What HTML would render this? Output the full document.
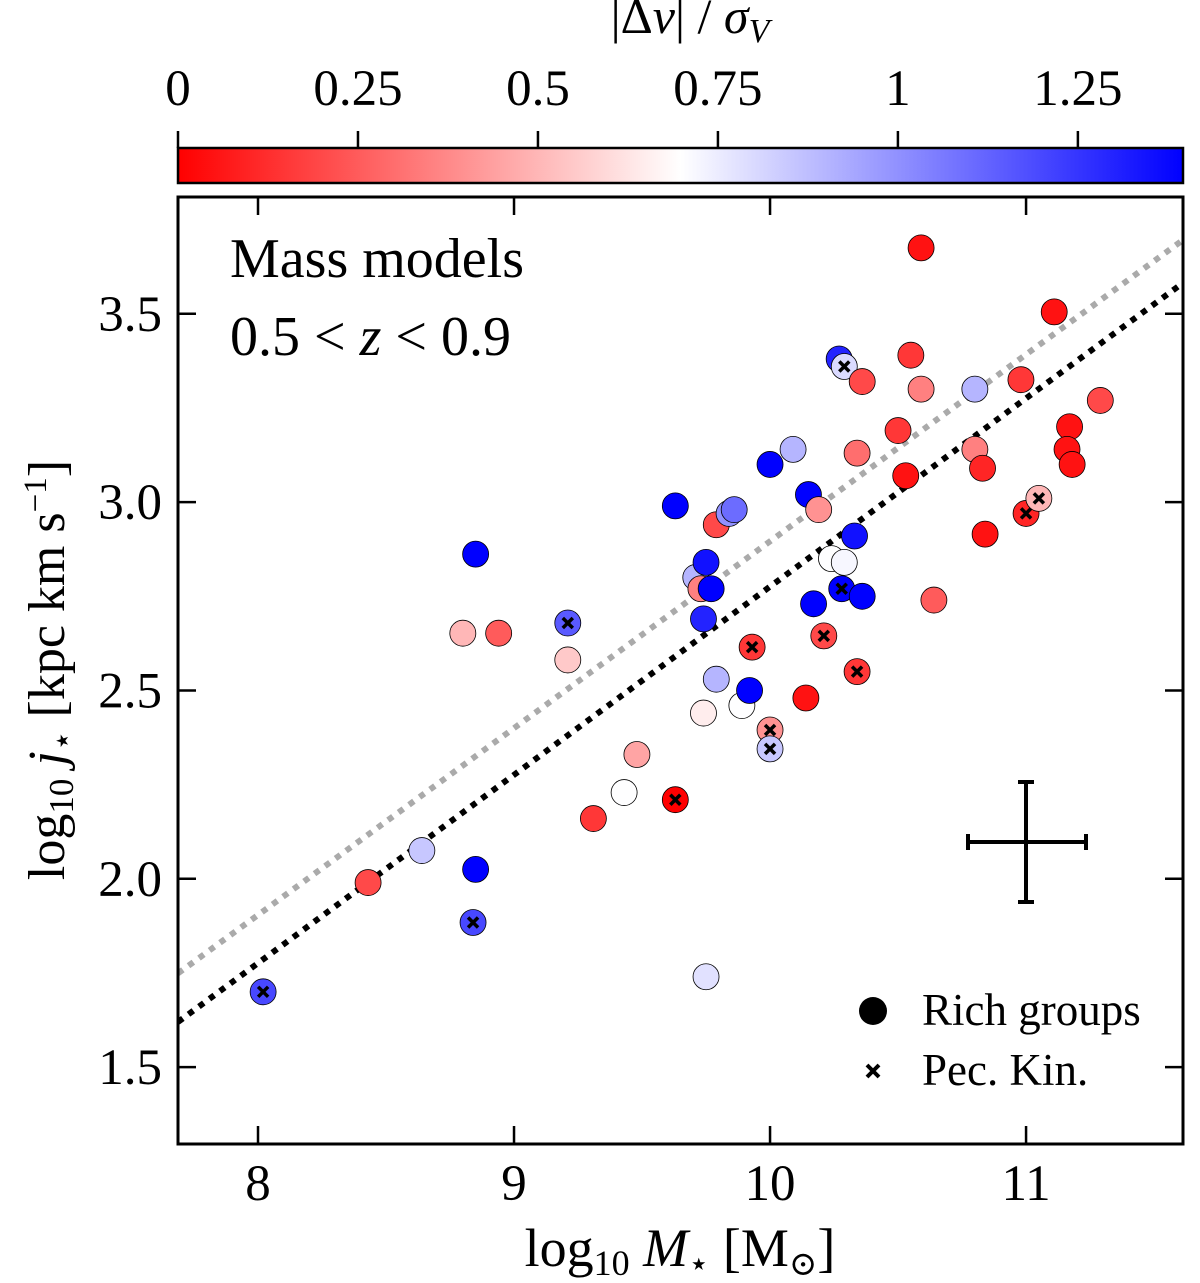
<!DOCTYPE html>
<html><head><meta charset="utf-8"><style>
body{margin:0;background:#fff;}
text,tspan{font-family:"Liberation Serif","DejaVu Serif",serif;fill:#000;}
</style></head><body>
<svg id="chart" width="1200" height="1283" viewBox="0 0 1200 1283" xmlns="http://www.w3.org/2000/svg" style="position:absolute;left:0;top:0">
<defs>
<linearGradient id="cbg" x1="0" x2="1" y1="0" y2="0">
<stop offset="0" stop-color="#ff0000"/><stop offset="0.5" stop-color="#ffffff"/><stop offset="1" stop-color="#0000ff"/>
</linearGradient>
<clipPath id="clip"><rect x="178" y="197" width="1005" height="947"/></clipPath>
</defs>
<g id="cbar"></g>
<g id="plot"></g>
</svg>
<script>
const xs = [8.02,8.43,8.64,8.85,8.84,8.85,8.80,8.94,9.21,9.21,9.31,9.43,9.48,9.63,9.63,9.71,9.73,9.75,9.77,9.74,9.79,9.84,9.86,9.75,9.74,9.79,9.89,9.92,9.93,10.0,10.0,10.0,10.09,10.15,10.17,10.14,10.19,10.21,10.24,10.29,10.28,10.27,10.29,10.33,10.36,10.34,10.36,10.34,10.50,10.53,10.55,10.59,10.59,10.64,10.80,10.80,10.83,10.84,10.98,11.0,11.05,11.11,11.17,11.16,11.18,11.29];
const ys = [1.70,1.99,2.075,2.025,1.884,2.862,2.652,2.652,2.679,2.581,2.16,2.229,2.33,2.21,2.99,2.80,2.77,2.84,2.77,2.69,2.94,2.97,2.98,1.74,2.44,2.53,2.46,2.50,2.615,2.395,2.345,3.10,3.14,3.02,2.73,2.48,2.98,2.645,2.85,2.84,2.77,3.38,3.36,2.91,2.75,3.13,3.32,2.55,3.19,3.07,3.39,3.675,3.30,2.74,3.30,3.14,3.09,2.915,3.325,2.97,3.01,3.505,3.20,3.14,3.10,3.27];
const dv = [1.2,0.2,0.85,1.4,1.2,1.4,0.5,0.25,1.15,0.55,0.15,0.7,0.45,0.0,1.4,0.9,0.35,1.35,1.4,1.3,0.2,1.0,1.1,0.78,0.65,0.9,0.7,1.4,0.15,0.4,0.85,1.4,0.9,1.4,1.4,0.05,0.4,0.2,0.7,0.72,1.4,1.3,0.8,1.35,1.4,0.3,0.2,0.15,0.15,0.05,0.15,0.05,0.35,0.25,0.9,0.35,0.1,0.05,0.15,0.1,0.5,0.05,0.05,0.05,0.05,0.2];
const pec = [1,0,0,0,1,0,0,0,1,0,0,0,0,1,0,0,0,0,0,0,0,0,0,0,0,0,0,0,1,1,1,0,0,0,0,0,0,1,0,0,1,0,1,0,0,0,0,1,0,0,0,0,0,0,0,0,0,0,0,1,1,0,0,0,0,0];
const xTicks = [8,9,10,11];
const yTicks = [1.5,2.0,2.5,3.0,3.5];
const yTickLabels = ["1.5","2.0","2.5","3.0","3.5"];
const cTicks = [0,0.25,0.5,0.75,1,1.25];
const cTickLabels = ["0","0.25","0.5","0.75","1","1.25"];
const fitBlack = [1.62,3.582];
const fitGray = [1.749,3.696];
const xDomain = [7.6875,11.613];
const yDomain = [1.296,3.81];
const cMax = 1.396;

const L=178,R=1183,T=197,B=1144;
const sx = v => L + (v-xDomain[0])/(xDomain[1]-xDomain[0])*(R-L);
const sy = v => B - (v-yDomain[0])/(yDomain[1]-yDomain[0])*(B-T);
const sc = v => 178 + v/cMax*(1183-178);
function cmap(v){let t=Math.max(0,Math.min(1,v/cMax));let r,g,b;
 if(t<0.5){r=255;g=b=Math.round(510*t);}else{r=g=Math.round(255*(2-2*t));b=255;}
 return `rgb(${r},${g},${b})`;}
const NS="http://www.w3.org/2000/svg";
function mk(tag,attrs,parent,txt){const e=document.createElementNS(NS,tag);for(const k in attrs)e.setAttribute(k,attrs[k]);if(txt!==undefined)e.textContent=txt;parent.appendChild(e);return e;}
const plot=document.getElementById('plot'), cbar=document.getElementById('cbar');
const FF='Liberation Serif, DejaVu Serif, serif';

let r=mk('rect',{x:178,y:148,width:1005,height:35,fill:'url(#cbg)',stroke:'#000','stroke-width':2.5},cbar);


cTicks.forEach((v,i)=>{const x=sc(v);
 let l=mk('line',{x1:x,x2:x,y1:131,y2:148,stroke:'#000','stroke-width':2.5},cbar);
 
 
 let t=mk('text',{x:x,y:105,'font-size':51,'font-family':FF,'text-anchor':'middle'},cbar,cTickLabels[i]);
 
 
});
let ct=mk('text',{x:690,y:33,'font-size':50,'font-family':FF,'text-anchor':'middle'},cbar);
ct.innerHTML='|Δ<tspan font-style="italic">v</tspan>| / <tspan font-style="italic">σ</tspan><tspan font-style="italic" font-size="34" dy="9">V</tspan>';



const g=mk('g',{'clip-path':'url(#clip)'},plot);
[[fitGray,'#aaaaaa','gray-fit-line'],[fitBlack,'#000','black-fit-line']].forEach(([f,c,n])=>{
 let l=mk('line',{x1:sx(xDomain[0]),y1:sy(f[0]),x2:sx(xDomain[1]),y2:sy(f[1]),stroke:c,'stroke-width':6,'stroke-dasharray':'6 7'},g);
 
 
});
xs.forEach((x,i)=>{const cx=sx(x),cy=sy(ys[i]);
 let c=mk('circle',{cx:cx,cy:cy,r:13,fill:cmap(dv[i]),stroke:'#000','stroke-width':0.8},g);
 
 
 if(pec[i]){let p=mk('path',{d:`M${cx-5},${cy-5}L${cx+5},${cy+5}M${cx-5},${cy+5}L${cx+5},${cy-5}`,stroke:'#000','stroke-width':3.5},g);
  
  }
});
let fr=mk('rect',{x:L,y:T,width:R-L,height:B-T,fill:'none',stroke:'#000','stroke-width':3},plot);


xTicks.forEach(v=>{const x=sx(v);
 mk('line',{x1:x,x2:x,y1:B,y2:B-18,stroke:'#000','stroke-width':2.5},plot);
 mk('line',{x1:x,x2:x,y1:T,y2:T+18,stroke:'#000','stroke-width':2.5},plot);
 let t=mk('text',{x:x,y:1200,'font-size':51,'font-family':FF,'text-anchor':'middle'},plot,String(v));
 
 
});
yTicks.forEach((v,i)=>{const y=sy(v);
 mk('line',{x1:L,x2:L+18,y1:y,y2:y,stroke:'#000','stroke-width':2.5},plot);
 mk('line',{x1:R,x2:R-18,y1:y,y2:y,stroke:'#000','stroke-width':2.5},plot);
 let t=mk('text',{x:162,y:y+17,'font-size':51,'font-family':FF,'text-anchor':'end'},plot,yTickLabels[i]);
 
 
});
</script>
<svg style="position:absolute;left:0;top:0" width="1200" height="1283" font-family="Liberation Serif, DejaVu Serif, serif">
<text x="230" y="277" font-size="56">Mass models</text>
<text x="230" y="355" font-size="56">0.5 &lt; <tspan font-style="italic">z</tspan> &lt; 0.9</text>
<text x="680" y="1266" font-size="54" text-anchor="middle">log<tspan font-size="36" dy="9">10</tspan><tspan dy="-9" font-style="italic"> M</tspan><tspan font-size="34" dy="9">⋆</tspan><tspan dy="-9"> [M</tspan><tspan font-size="34" dy="9">⊙</tspan><tspan dy="-9">]</tspan></text>
<text transform="translate(64,670) rotate(-90)" font-size="52" text-anchor="middle">log<tspan font-size="35" dy="9">10</tspan><tspan dy="-9" font-style="italic"> j</tspan><tspan font-size="33" dy="9">⋆</tspan><tspan dy="-9"> [kpc km s</tspan><tspan font-size="33" dy="-18">−1</tspan><tspan dy="18">]</tspan></text>
<g stroke="#000" stroke-width="4">
<line x1="968" x2="1086" y1="842" y2="842"/><line x1="1026" x2="1026" y1="782" y2="902"/>
<line x1="968" x2="968" y1="834" y2="850"/><line x1="1086" x2="1086" y1="834" y2="850"/>
<line x1="1018" x2="1034" y1="782" y2="782"/><line x1="1018" x2="1034" y1="902" y2="902"/>
</g>
<g>
<circle cx="873" cy="1011" r="14" fill="#000"/>
<text x="922" y="1025" font-size="45">Rich groups</text>
<path d="M867,1065L879,1077M867,1077L879,1065" stroke="#000" stroke-width="4"/>
<text x="922" y="1085" font-size="45">Pec. Kin.</text>
</g>
</svg>
</body></html>
